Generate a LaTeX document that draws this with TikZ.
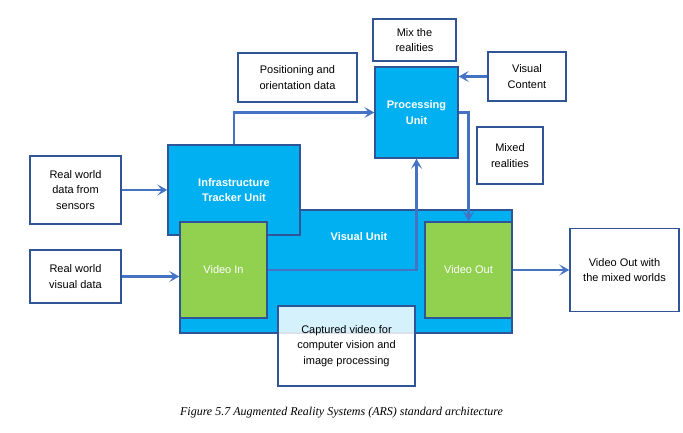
\documentclass[tikz,border=0pt]{standalone}
\usepackage{fontspec}
\setmainfont{Liberation Sans}
\newfontfamily\capfont{Liberation Serif}
\usetikzlibrary{arrows.meta}
\definecolor{linecol}{HTML}{4472C4}
\definecolor{edgecol}{HTML}{2F5597}
\definecolor{bluefill}{HTML}{00B0F0}
\definecolor{greenfill}{HTML}{92D050}
\tikzset{
  base/.style={draw=edgecol, line width=1.4pt, align=center, inner sep=0pt,
    font=\fontsize{11}{15.5}\selectfont},
  wbox/.style={base, fill=white, text=black},
  bbox/.style={base, fill=bluefill, text=white, font=\fontsize{11}{15.5}\selectfont\bfseries},
  gbox/.style={base, fill=greenfill, text=white},
  conn/.style={draw=linecol, line width=2.3pt, -{Stealth[length=10pt,width=11pt,inset=4.5pt]}},
}
\begin{document}
\begin{tikzpicture}[x=1pt,y=-1pt]
\useasboundingbox (0,0) rectangle (683,433);
% white boxes
\node[wbox, minimum width=83pt, minimum height=42pt] (mix) at (414.5,40) {Mix the\\realities};
\node[wbox, minimum width=119pt, minimum height=49pt] (pos) at (297.5,77.5) {Positioning and\\orientation data};
\node[wbox, minimum width=78pt, minimum height=49pt] (vcont) at (527,76.5) {Visual\\Content};
\node[wbox, minimum width=66pt, minimum height=57pt] (mixed) at (510,155.5) {Mixed\\realities};
\node[wbox, minimum width=91pt, minimum height=68pt] (sens) at (75.5,190) {Real world\\data from\\sensors};
\node[wbox, minimum width=91pt, minimum height=53pt] (vdata) at (75.5,276.5) {Real world\\visual data};
\node[wbox, minimum width=109pt, minimum height=83pt] (vout2) at (624.5,270) {Video Out with\\the mixed worlds};
% blue units
\node[bbox, minimum width=83pt, minimum height=91pt] (proc) at (416.5,112.5) {Processing\\Unit};
\node[bbox, minimum width=332pt, minimum height=123pt] (vunit) at (346,271.5) {};
\node[text=white, font=\fontsize{11}{15.5}\selectfont\bfseries] (vulabel) at (359,237) {Visual Unit};
\node[bbox, minimum width=132pt, minimum height=90pt] (infra) at (234,190) {Infrastructure\\Tracker Unit};
\node[gbox, minimum width=87pt, minimum height=96pt] (vin) at (223.5,270) {Video In};
\node[gbox, minimum width=87pt, minimum height=96pt] (vout) at (468.5,270) {Video Out};
\node[base, fill=white, fill opacity=0.83, text opacity=1, text=black, minimum width=137pt, minimum height=80pt] (capt) at (346.5,346) {Captured video for\\computer vision and\\image processing};
% connectors
\draw[conn] (sens) -- (infra);
\draw[conn] (vdata.east) -- (vdata.east -| vin.west);
\draw[conn] (infra.north) |- (proc.west);
\draw[conn] (vcont.west) -- (vcont.west -| proc.east);
\draw[conn] (proc.east) -| (vout.north);
\draw[conn] (vin.east) -| (proc.south);
\draw[conn] (vout.east) -- (vout2.west);
% caption
\node[font=\capfont\itshape\fontsize{12}{14}\selectfont] (cap) at (341.5,413) {Figure 5.7 Augmented Reality Systems (ARS) standard architecture};
\end{tikzpicture}
\end{document}
